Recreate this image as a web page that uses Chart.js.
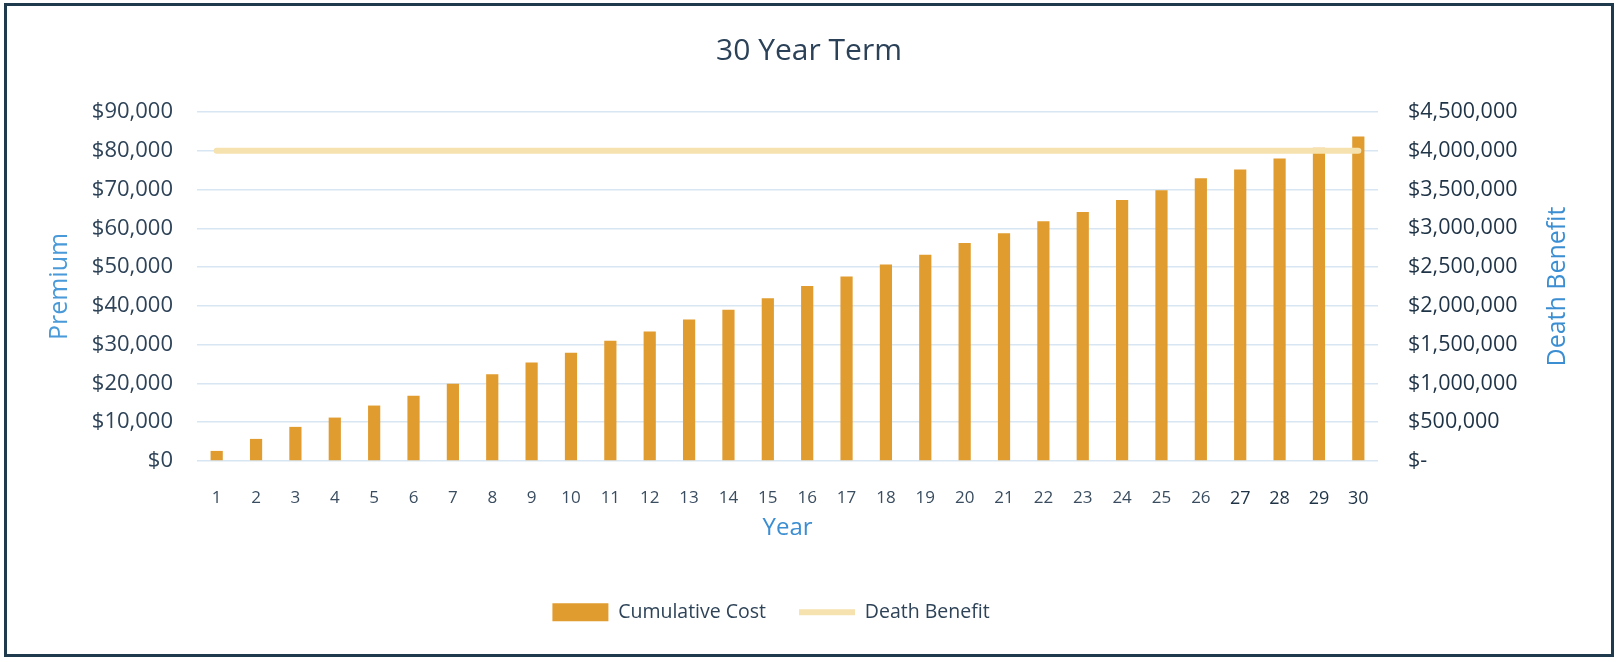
<!DOCTYPE html>
<html>
<head>
<meta charset="utf-8">
<script src="https://cdn.jsdelivr.net/npm/chart.js@4.4.1/dist/chart.umd.min.js"></script>
<style>
    body { margin: 0; background: #fff; }
    #frame {
        position: absolute; left: 4px; top: 3px;
        width: 1610px; height: 654px;
        box-sizing: border-box;
        border: 3px solid #1f3a4c;
        background: #fff;
    }
</style>
</head>
<body>
<div id="frame"><canvas id="termChart"></canvas></div>
<script>
const years = [];
for (let i = 1; i <= 30; i++) years.push(String(i));

const cumulativeCost = [2600, 5700, 8800, 11200, 14300, 16800, 19900, 22400, 25400, 27900,
    31000, 33400, 36500, 39000, 42000, 45100, 47600, 50700, 53200, 56200,
    58700, 61800, 64200, 67300, 69800, 72900, 75200, 78000, 80800, 83700];

const deathBenefit = [4000000, 4000000, 4000000, 4000000, 4000000, 4000000, 4000000, 4000000, 4000000, 4000000,
    4000000, 4000000, 4000000, 4000000, 4000000, 4000000, 4000000, 4000000, 4000000, 4000000,
    4000000, 4000000, 4000000, 4000000, 4000000, 4000000, 4000000, 4000000, 4000000, 4000000];

const FONT = "'Open Sans', 'Liberation Sans', sans-serif";

// right axis title reads bottom-to-top, chart.js would rotate it the other way
const rightTitle = {
    id: 'rightTitle',
    afterDraw(chart) {
        const ctx = chart.ctx;
        const area = chart.chartArea;
        ctx.save();
        ctx.translate(1551, (area.top + area.bottom) / 2);
        ctx.rotate(-Math.PI / 2);
        ctx.font = '25px ' + FONT;
        ctx.fillStyle = '#3b8ed2';
        ctx.textAlign = 'center';
        ctx.textBaseline = 'middle';
        ctx.fillText('Death Benefit', 0, 0);
        ctx.restore();
    }
};

const shiftLegend = {
    id: 'shiftLegend',
    afterLayout(chart) {
        chart.legend.left -= 38;
        chart.legend.right -= 38;
    }
};

new Chart(document.getElementById('termChart'), {
    type: 'bar',
    data: {
        labels: years,
        datasets: [{
            label: 'Cumulative Cost',
            data: cumulativeCost,
            backgroundColor: '#e19c2f',
            barPercentage: 0.31,
            categoryPercentage: 1,
            yAxisID: 'y',
            order: 1,
            pointStyle: 'rect'
        }, {
            type: 'line',
            label: 'Death Benefit',
            data: deathBenefit,
            borderColor: '#f6e2ae',
            backgroundColor: '#f6e2ae',
            borderWidth: 6,
            borderCapStyle: 'round',
            pointRadius: 0,
            yAxisID: 'y1',
            order: 0,
            pointStyle: 'line'
        }]
    },
    options: {
        responsive: true,
        maintainAspectRatio: false,
        animation: false,
        layout: { padding: { left: 0, right: 0, top: 0, bottom: 22 } },
        plugins: {
            title: {
                display: true,
                text: '30 Year Term',
                color: '#2b4158',
                font: { family: FONT, size: 30, weight: 'normal' },
                padding: { top: 27, bottom: 43 }
            },
            legend: {
                position: 'bottom',
                labels: {
                    usePointStyle: true,
                    pointStyleWidth: 56,
                    boxHeight: 18,
                    padding: 33,
                    color: '#2e4358',
                    font: { family: FONT, size: 19.5 },
                    sort: (a, b) => a.datasetIndex - b.datasetIndex
                }
            },
            tooltip: { enabled: false }
        },
        scales: {
            x: {
                grid: { display: false },
                border: { display: false },
                ticks: {
                    color: ctx => ctx.index >= 26 ? '#1f3347' : '#3a4d60',
                    font: ctx => ({ family: FONT, size: ctx.index >= 26 ? 18 : 17 }),
                    padding: 19,
                    maxRotation: 0
                },
                title: {
                    display: true,
                    text: 'Year',
                    color: '#3b8ed2',
                    font: { family: FONT, size: 24 },
                    padding: { top: 0, bottom: 27 }
                },
                afterFit(scale) { scale.height = 108.5; }
            },
            y: {
                position: 'left',
                min: 0,
                max: 90000,
                ticks: {
                    stepSize: 10000,
                    color: '#2e4358',
                    font: { family: FONT, size: 22 },
                    padding: 24,
                    callback: v => '$' + v.toLocaleString('en-US')
                },
                grid: { color: '#d8e5f2', lineWidth: 1.5, drawTicks: false },
                border: { display: false },
                title: {
                    display: true,
                    text: 'Premium',
                    color: '#4a9ad9',
                    font: { family: FONT, size: 25 },
                    padding: { top: 38, bottom: 0 }
                },
                afterFit(scale) { scale.width = 190; }
            },
            y1: {
                position: 'right',
                min: 0,
                max: 4500000,
                ticks: {
                    stepSize: 500000,
                    color: '#1f3347',
                    font: { family: FONT, size: 21.5 },
                    padding: 30,
                    callback: v => v === 0 ? '$-' : '$' + v.toLocaleString('en-US')
                },
                grid: { display: false, drawTicks: false },
                border: { display: false },
                afterFit(scale) { scale.width = 233; }
            }
        }
    },
    plugins: [rightTitle, shiftLegend]
});
</script>
</body>
</html>
